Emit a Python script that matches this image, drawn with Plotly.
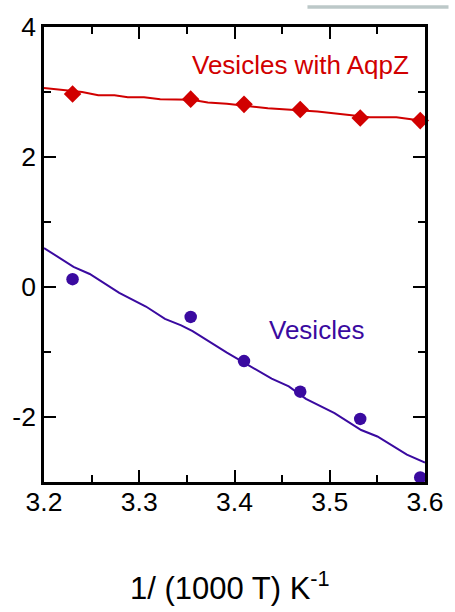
import plotly.graph_objects as go

# Data
aqpz_x = [3.230, 3.354, 3.410, 3.469, 3.532, 3.595]
aqpz_y = [2.97, 2.89, 2.81, 2.73, 2.60, 2.56]
aqpz_fit_x = [3.200, 3.224, 3.240, 3.257, 3.274, 3.288, 3.305, 3.322, 3.355, 3.372,
              3.392, 3.435, 3.487, 3.542, 3.570, 3.595, 3.600]
aqpz_fit_y = [3.06, 3.02, 3.00, 2.95, 2.95, 2.92, 2.92, 2.89, 2.88, 2.84,
              2.82, 2.75, 2.70, 2.61, 2.61, 2.56, 2.54]

ves_x = [3.230, 3.354, 3.410, 3.469, 3.532, 3.595]
ves_y = [0.12, -0.46, -1.14, -1.61, -2.03, -2.93]
ves_fit_x = [3.200, 3.231, 3.248, 3.279, 3.307, 3.327, 3.344, 3.356, 3.392, 3.416,
             3.439, 3.457, 3.475, 3.505, 3.533, 3.550, 3.581, 3.600]
ves_fit_y = [0.60, 0.31, 0.20, -0.09, -0.30, -0.49, -0.59, -0.68, -1.01, -1.21,
             -1.41, -1.53, -1.72, -1.94, -2.20, -2.30, -2.58, -2.70]

x_tickvals = [3.2, 3.3, 3.4, 3.5, 3.6]
x_ticktext = ["3.2", "3.3", "3.4", "3.5", "3.6"]
y_tickvals = [-2, 0, 2, 4]
y_ticktext = ["-2", "0", "2", "4"]

RED = "#d10000"
BLUE = "#3a0aa0"
FONT = "Liberation Sans, Arial, sans-serif"

fig = go.Figure()
fig.add_trace(go.Scatter(x=aqpz_fit_x, y=aqpz_fit_y, mode="lines",
                         line=dict(color=RED, width=2), cliponaxis=False, hoverinfo="skip"))
fig.add_trace(go.Scatter(x=aqpz_x, y=aqpz_y, mode="markers",
                         marker=dict(symbol="diamond", size=13.5, color=RED), cliponaxis=False))
fig.add_trace(go.Scatter(x=ves_fit_x, y=ves_fit_y, mode="lines",
                         line=dict(color=BLUE, width=2), cliponaxis=False, hoverinfo="skip"))
fig.add_trace(go.Scatter(x=ves_x, y=ves_y, mode="markers",
                         marker=dict(symbol="circle", size=12.5, color=BLUE), cliponaxis=False))

axis_common = dict(
    showline=True, linecolor="black", linewidth=2.5, mirror="allticks",
    ticks="inside", ticklen=12, tickwidth=2, tickcolor="black",
    showgrid=False, zeroline=False,
    tickfont=dict(family=FONT, size=26.5, color="black"),
)

fig.update_xaxes(range=[3.2, 3.6], tickvals=x_tickvals, ticktext=x_ticktext,
                 ticklabelstandoff=-6,
                 minor=dict(ticks="inside", ticklen=7, tickwidth=2, tickcolor="black", dtick=0.05,
                            tick0=3.2, showgrid=False),
                 **axis_common)
fig.update_yaxes(range=[-3, 4], tickvals=y_tickvals, ticktext=y_ticktext,
                 minor=dict(ticks="inside", ticklen=7, tickwidth=2, tickcolor="black", dtick=1,
                            tick0=-3, showgrid=False),
                 **axis_common)

fig.add_annotation(x=3.469, y=3.42, xref="x", yref="y", text="Vesicles with AqpZ",
                   showarrow=False, font=dict(family=FONT, size=26, color=RED))
fig.add_annotation(x=3.486, y=-0.66, xref="x", yref="y", text="Vesicles",
                   showarrow=False, font=dict(family=FONT, size=26, color=BLUE))
fig.add_annotation(x=0.487, y=-0.278, xref="paper", yref="paper",
                   text="1/ (1000 T) K<sup>-1</sup>", showarrow=False,
                   font=dict(family=FONT, size=31, color="black"))

fig.add_shape(type="rect", xref="paper", yref="paper",
              x0=(312 - 43) / 389, x1=(456 - 43) / 389,
              y0=(482 - 2.5) / 461, y1=(482 + 1) / 461,
              line=dict(width=0), fillcolor="#bcc8c8")

fig.update_layout(
    width=455, height=612,
    margin=dict(l=43, r=23, t=21, b=130),
    paper_bgcolor="white", plot_bgcolor="white",
    showlegend=False,
)

fig.write_html("out.html")
